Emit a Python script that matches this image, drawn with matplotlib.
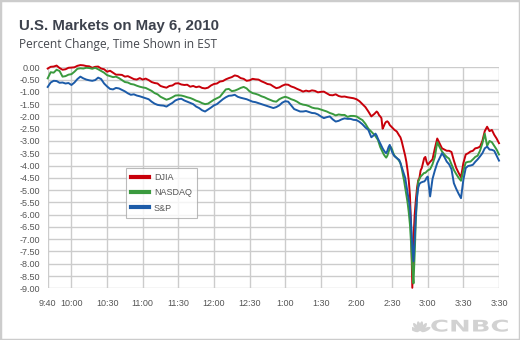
import math

import matplotlib
matplotlib.use("Agg")
import matplotlib.pyplot as plt
from matplotlib.patches import Ellipse, PathPatch, Rectangle
from matplotlib.textpath import TextPath
from matplotlib.font_manager import FontProperties
from matplotlib.transforms import Affine2D

# sample times, minutes after 9:30: every 2.5 min to 2:15, every minute
# through the crash, every 2 min after 3:00
minutes = ([10 + 2.5 * i for i in range(111)]
           + list(range(286, 331)) + list(range(332, 391, 2)))

djia = [
    -0.05, 0.02, 0.03, 0.07, -0.03, -0.10, -0.08, -0.02, -0.01, 0.00,
    0.06, 0.09, 0.08, 0.05, 0.04, -0.02, 0.02, 0.03, -0.05, -0.08,
    -0.18, -0.14, -0.22, -0.30, -0.30, -0.31, -0.38, -0.36, -0.42, -0.48,
    -0.50, -0.44, -0.50, -0.46, -0.52, -0.60, -0.64, -0.66, -0.76, -0.80,
    -0.83, -0.76, -0.74, -0.66, -0.65, -0.70, -0.72, -0.71, -0.79, -0.76,
    -0.81, -0.78, -0.84, -0.86, -0.83, -0.74, -0.68, -0.66, -0.58, -0.56,
    -0.49, -0.44, -0.40, -0.33, -0.36, -0.44, -0.47, -0.55, -0.53, -0.47,
    -0.49, -0.50, -0.57, -0.62, -0.68, -0.70, -0.78, -0.85, -0.82, -0.75,
    -0.70, -0.71, -0.78, -0.82, -0.88, -0.93, -0.99, -0.95, -0.98, -0.94,
    -0.96, -1.02, -1.00, -0.99, -1.06, -1.13, -1.14, -1.10, -1.17, -1.20,
    -1.19, -1.22, -1.24, -1.26, -1.30, -1.38, -1.50, -1.62, -1.80, -2.00,
    -1.90,
    -1.85, -1.80, -1.85, -1.95, -2.00, -2.07, -2.50, -2.40, -2.28, -2.22,
    -2.20, -2.25, -2.35, -2.40, -2.45, -2.50, -2.55, -2.58, -2.62, -2.70,
    -2.78, -2.85, -3.00, -3.20, -3.40, -3.60, -3.85, -4.20, -4.60, -5.20,
    -6.50, -8.98, -7.00, -6.00, -5.40, -4.90, -4.60, -4.50, -4.20, -4.10,
    -3.90, -3.70, -3.65, -3.85, -3.97,
    -3.85, -3.75, -3.30, -2.90, -3.10, -3.30, -3.35, -3.40, -3.40, -3.45,
    -3.80, -4.10, -4.30, -4.48, -3.90, -3.55, -3.50, -3.43, -3.40, -3.30,
    -3.28, -3.23, -3.00, -2.60, -2.42, -2.60, -2.55, -2.75, -2.90, -3.09,
]
nasdaq = [
    -0.45, -0.20, -0.22, -0.10, -0.15, -0.38, -0.36, -0.30, -0.28, -0.18,
    -0.06, -0.04, -0.05, -0.02, -0.03, -0.06, -0.02, -0.08, -0.15, -0.22,
    -0.32, -0.36, -0.40, -0.38, -0.44, -0.52, -0.60, -0.62, -0.68, -0.70,
    -0.75, -0.79, -0.82, -0.84, -0.90, -0.96, -1.05, -1.10, -1.20, -1.26,
    -1.32, -1.28, -1.22, -1.15, -1.14, -1.15, -1.18, -1.22, -1.25, -1.30,
    -1.36, -1.40, -1.46, -1.50, -1.48, -1.40, -1.32, -1.26, -1.20, -1.05,
    -0.90, -0.88, -0.97, -0.95, -0.90, -0.84, -0.80, -0.86, -0.98, -1.05,
    -1.08, -1.12, -1.18, -1.22, -1.28, -1.33, -1.38, -1.40, -1.30, -1.24,
    -1.20, -1.24, -1.30, -1.34, -1.40, -1.48, -1.52, -1.54, -1.58, -1.64,
    -1.67, -1.68, -1.72, -1.76, -1.80, -1.86, -1.90, -1.96, -1.92, -1.94,
    -1.94, -2.02, -1.98, -1.98, -2.00, -2.08, -2.15, -2.30, -2.50, -2.62,
    -2.75,
    -2.80, -2.88, -2.95, -3.10, -3.25, -3.35, -3.45, -3.55, -3.62, -3.68,
    -3.60, -3.45, -3.30, -3.25, -3.35, -3.50, -3.60, -3.65, -3.70, -3.75,
    -3.82, -3.90, -4.10, -4.35, -4.60, -4.90, -5.20, -5.50, -5.90, -6.40,
    -7.20, -8.20, -8.80, -7.60, -6.20, -5.20, -4.65, -4.55, -4.45, -4.40,
    -4.35, -4.30, -4.30, -4.25, -4.20,
    -4.15, -3.95, -3.65, -3.05, -3.25, -3.43, -3.55, -3.65, -3.72, -3.95,
    -4.18, -4.35, -4.50, -4.62, -4.20, -3.88, -3.85, -3.84, -3.75, -3.65,
    -3.60, -3.40, -3.10, -2.70, -3.20, -3.00, -3.05, -3.20, -3.35, -3.55,
]
sp500 = [
    -0.80, -0.62, -0.55, -0.56, -0.63, -0.62, -0.66, -0.64, -0.72, -0.62,
    -0.48, -0.38, -0.45, -0.50, -0.53, -0.55, -0.52, -0.42, -0.48, -0.66,
    -0.78, -0.88, -0.90, -0.84, -0.86, -0.92, -0.98, -1.06, -1.12, -1.10,
    -1.15, -1.18, -1.22, -1.26, -1.30, -1.40, -1.48, -1.53, -1.55, -1.56,
    -1.60, -1.52, -1.45, -1.35, -1.30, -1.28, -1.35, -1.40, -1.45, -1.50,
    -1.60, -1.66, -1.75, -1.80, -1.72, -1.64, -1.55, -1.50, -1.40, -1.30,
    -1.22, -1.16, -1.15, -1.12, -1.20, -1.24, -1.27, -1.30, -1.35, -1.40,
    -1.42, -1.46, -1.50, -1.54, -1.58, -1.62, -1.66, -1.62, -1.55, -1.44,
    -1.38, -1.40, -1.55, -1.70, -1.75, -1.80, -1.80, -1.78, -1.82, -1.86,
    -1.87, -1.92, -2.00, -2.07, -2.03, -2.00, -2.12, -2.21, -2.18, -2.12,
    -2.08, -2.10, -2.10, -2.14, -2.15, -2.22, -2.32, -2.45, -2.55, -2.85,
    -2.75,
    -2.70, -2.78, -2.90, -3.00, -3.10, -3.20, -3.30, -3.38, -3.45, -3.50,
    -3.40, -3.25, -3.16, -3.30, -3.45, -3.55, -3.62, -3.66, -3.70, -3.74,
    -3.77, -3.90, -4.05, -4.20, -4.35, -4.50, -4.80, -5.10, -5.40, -5.70,
    -6.40, -7.30, -7.90, -7.00, -6.00, -5.30, -4.90, -4.75, -4.70, -4.68,
    -4.66, -4.65, -4.60, -4.50, -4.45,
    -5.26, -4.55, -4.20, -3.90, -3.70, -3.50, -3.65, -3.84, -3.95, -4.15,
    -4.72, -4.95, -5.15, -5.33, -4.58, -4.10, -4.02, -4.00, -3.97, -3.85,
    -3.75, -3.63, -3.50, -3.30, -3.23, -3.35, -3.36, -3.40, -3.60, -3.80,
]

tick_minutes = [10, 30, 60, 90, 120, 150, 180, 210, 240, 270, 300, 330, 360, 390]
# the source labels its last tick "3:30" twice, kept as drawn
tick_labels = ["9:40", "10:00", "10:30", "11:00", "11:30", "12:00", "12:30",
               "1:00", "1:30", "2:00", "2:30", "3:00", "3:30", "3:30"]
y_ticks = [-0.5 * i for i in range(19)]

W, H = 520, 340
fig = plt.figure(figsize=(W / 100, H / 100), dpi=100)
fig.patch.set_facecolor("white")
ax = fig.add_axes([47.7 / W, 1 - 288.3 / H, 451.3 / W, 221 / H])

for vals, col in [(djia, "#c8000a"), (nasdaq, "#3a9a3e"), (sp500, "#1c5ba8")]:
    ax.plot(minutes, vals, color=col, lw=1.4, clip_on=False, zorder=3,
            solid_joinstyle="round")

ax.set_xlim(10, 390)
ax.set_ylim(-9, 0)
ax.set_xticks(tick_minutes)
ax.set_xticklabels(tick_labels)
ax.set_yticks(y_ticks)
ax.set_yticklabels([f"{v:.2f}" if v else "0.00" for v in y_ticks])
ax.grid(True, color="#cccccc", lw=1)
ax.set_axisbelow(True)
for s in ax.spines.values():
    s.set_visible(False)
ax.tick_params(length=0, labelsize=6.5, labelcolor="#555555")
ax.tick_params(axis="x", pad=8)
ax.tick_params(axis="y", pad=5.5)
for lab in ax.get_xticklabels() + ax.get_yticklabels():
    lab.set_family("Liberation Sans")

leg = ax.legend(["DJIA", "NASDAQ", "S&P"], loc="upper left",
                bbox_to_anchor=(0.1735, 0.545), borderaxespad=0,
                frameon=True, fancybox=False, shadow=False,
                handlelength=1.9, handletextpad=0.6,
                borderpad=0.6, labelspacing=0.68,
                prop={"family": "Liberation Sans", "size": 6.5})
leg.get_frame().set_edgecolor("#aaaaaa")
leg.get_frame().set_linewidth(0.8)
for t in leg.get_texts():
    t.set_color("#555555")
for h in leg.get_lines():
    h.set_linewidth(3.0)

fig.text(19 / W, 1 - 30 / H, "U.S. Markets on May 6, 2010", fontsize=10.8,
         fontweight="bold", color="#3d424d", family="Liberation Sans")
fig.text(19 / W, 1 - 47.7 / H, "Percent Change, Time Shown in EST", fontsize=8.6,
         color="#45484f", family="Open Sans")

# CNBC logo, drawn in light grey at bottom right
logo = fig.add_axes([412 / W, 1 - 334 / H, 100 / W, 20 / H])
logo.set_xlim(0, 100)
logo.set_ylim(0, 20)
logo.axis("off")
for ang in [155, 125, 100, 80, 55, 25]:
    r = 6.5
    cx = 8 + r * math.cos(math.radians(ang))
    cy = 2 + r * math.sin(math.radians(ang)) * 0.9
    logo.add_patch(Ellipse((cx, cy), 10, 3.6, angle=ang, color="#d2d2d2", lw=0))
tp = TextPath((0, 0), "CNBC", size=16,
              prop=FontProperties(family="DejaVu Sans", weight="bold"))
logo.add_patch(PathPatch(Affine2D().scale(1.62, 1.0).translate(18, 2.5).transform_path(tp),
                         color="#d2d2d2", lw=0))

fig.add_artist(Rectangle((0, 0), 1, 1, transform=fig.transFigure, fill=False,
                         edgecolor="#cccccc", lw=2.5))

fig.savefig("out.png", dpi=100)
